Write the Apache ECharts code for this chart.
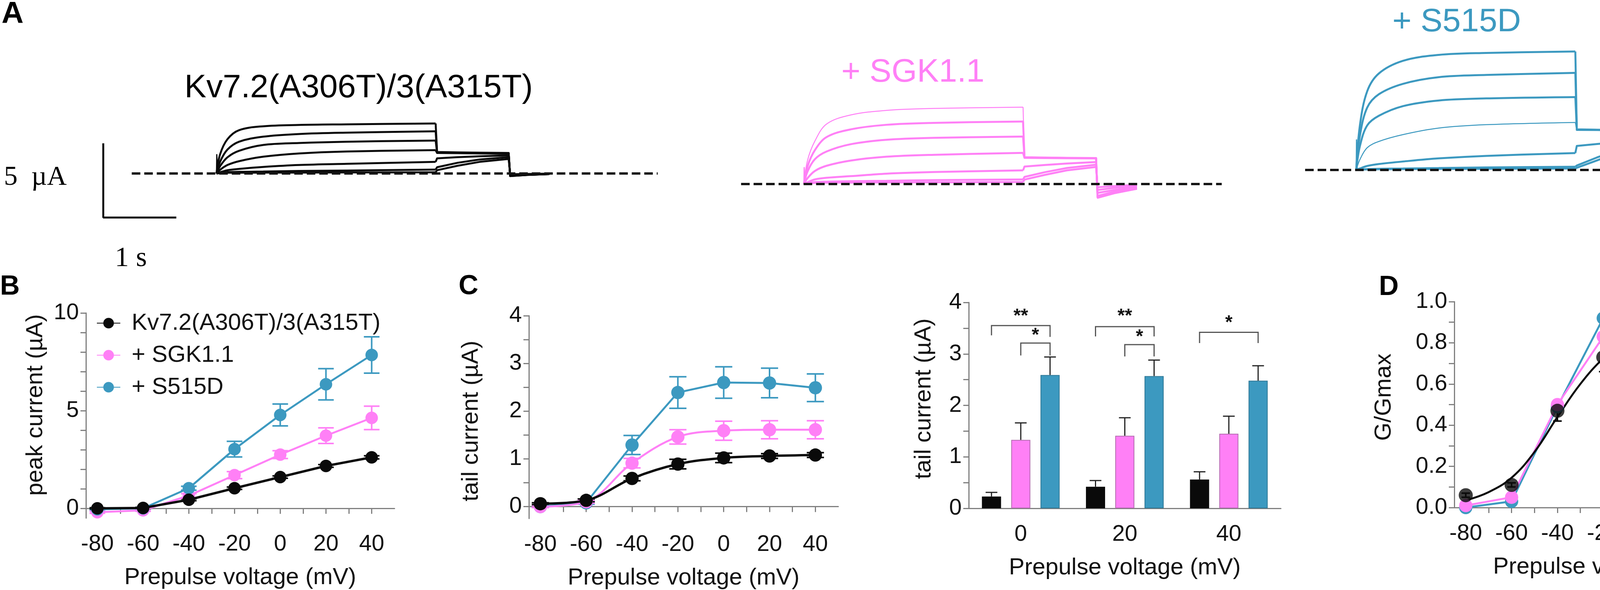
<!DOCTYPE html>
<html>
<head>
<meta charset="utf-8">
<title>Kv7.2(A306T)/3(A315T) + SGK1.1</title>
<script src="https://cdn.jsdelivr.net/npm/echarts@6/dist/echarts.min.js"></script>
<style>
   html, body { margin: 0; padding: 0; background: #fff; }
   #chart { width: 4550px; height: 1510px; }
</style>
</head>
<body>
<div id="chart"></div>
<script>
// ---- values ----
const NAME_KV = 'Kv7.2(A306T)/3(A315T)';
const NAME_SGK = '+ SGK1.1';
const NAME_S515D = '+ S515D';

const voltages = [-80, -60, -40, -20, 0, 20, 40];
const voltTicks = [-80, -70, -60, -50, -40, -30, -20, -10, 0, 10, 20, 30, 40];
const voltLabels = [-80, -60, -40, -20, 0, 20, 40];

// B: peak current (uA)
const peakKv = [0.0, 0.02, 0.44, 1.03, 1.6, 2.17, 2.61];
const peakKvErr = [0.03, 0.03, 0.05, 0.06, 0.06, 0.07, 0.08];
const peakSgk = [-0.2, -0.1, 0.65, 1.7, 2.75, 3.72, 4.63];
const peakSgkErr = [0.05, 0.05, 0.1, 0.18, 0.2, 0.4, 0.6];
const peakS515d = [-0.05, 0.0, 1.03, 3.03, 4.78, 6.35, 7.85];
const peakS515dErr = [0.05, 0.05, 0.1, 0.4, 0.56, 0.8, 0.93];
const peakYTicks = [0, 1, 2, 3, 4, 5, 6, 7, 8, 9, 10];
const peakYLabels = [0, 5, 10];

// C (left): tail current (uA)
const tailKv = [0.06, 0.13, 0.59, 0.89, 1.02, 1.06, 1.08];
const tailKvErr = [0.02, 0.03, 0.05, 0.1, 0.1, 0.05, 0.05];
const tailSgk = [0.0, 0.1, 0.91, 1.46, 1.59, 1.61, 1.61];
const tailSgkErr = [0.02, 0.03, 0.1, 0.15, 0.2, 0.19, 0.19];
const tailS515d = [0.0, 0.08, 1.29, 2.39, 2.6, 2.59, 2.49];
const tailS515dErr = [0.02, 0.03, 0.2, 0.33, 0.33, 0.31, 0.29];
const tailYTicks = [0, 0.5, 1, 1.5, 2, 2.5, 3, 3.5, 4];
const tailYLabels = [0, 1, 2, 3, 4];

// C (right): tail current bars at 0, 20, 40 mV
const barCats = ['0', '20', '40'];
const barKv = [0.23, 0.42, 0.56];
const barKvErr = [0.08, 0.12, 0.15];
const barSgk = [1.33, 1.41, 1.45];
const barSgkErr = [0.33, 0.35, 0.34];
const barS515d = [2.59, 2.57, 2.48];
const barS515dErr = [0.35, 0.31, 0.29];

// significance brackets: group, from bar, to bar, bracket top, left leg end, right leg end, star height
const sigGroup = [0, 0, 1, 1, 2];
const sigFrom = [0, 1, 0, 1, 0];
const sigTo = [2, 2, 2, 2, 2];
const sigTop = [3.55, 3.21, 3.53, 3.18, 3.42];
const sigLegL = [3.36, 2.97, 3.34, 2.95, 3.21];
const sigLegR = [3.33, 2.97, 3.34, 2.95, 3.21];
const sigStarY = [3.73, 3.36, 3.73, 3.33, 3.6];
const sigText = ['**', '*', '**', '*', '*'];

// D: G/Gmax
const gKv = [0.06, 0.11, 0.47, 0.73, 0.85, 0.94, 0.99];
const gKvErr = [0.01, 0.01, 0.05, 0.07, 0.05, 0.01, 0.01];
const gSgk = [0.01, 0.05, 0.5, 0.83, 0.94, 0.97, 0.97];
const gS515d = [0.0, 0.03, 0.49, 0.92, 1.0, 1.0, 0.96];
// black fitted curve, read every 10 mV
const fitVolt = [-80, -70, -60, -50, -40, -30, -20, -10, 0, 10, 20, 30, 40];
const fitKv = [0.035, 0.075, 0.145, 0.27, 0.44, 0.6, 0.725, 0.815, 0.875, 0.915, 0.94, 0.952, 0.96];
const gYTicks = [0, 0.1, 0.2, 0.3, 0.4, 0.5, 0.6, 0.7, 0.8, 0.9, 1.0];
const gYLabels = [0, 0.2, 0.4, 0.6, 0.8, 1.0];

// A: current traces (s, uA). activation / tail / after tail, one row per sweep
const actT = [0, 0.05, 0.15, 0.31, 0.64, 1.13, 1.78, 3.0];
const tailT = [3.02, 3.3, 3.6, 4.0];
const postT = [4.02, 4.25, 4.56];

const kvAct = [
   [0, 1.3, 2.31, 2.92, 3.18, 3.27, 3.31, 3.37],
   [0, 0.8, 1.61, 2.14, 2.48, 2.66, 2.75, 2.84],
   [0, 0.5, 1.09, 1.53, 1.92, 2.05, 2.14, 2.22],
   [0, 0.25, 0.57, 0.83, 1.13, 1.35, 1.48, 1.57],
   [0, 0.08, 0.22, 0.31, 0.44, 0.57, 0.65, 0.78],
   [0, 0.03, 0.09, 0.11, 0.13, 0.17, 0.2, 0.26],
   [0, 0.02, 0.05, 0.05, 0.06, 0.06, 0.07, 0.08]
];
const kvTail = [
   [1.45, 1.42, 1.4, 1.38],
   [1.42, 1.4, 1.38, 1.36],
   [1.4, 1.38, 1.36, 1.34],
   [1.38, 1.37, 1.35, 1.33],
   [1.02, 1.1, 1.16, 1.22],
   [0.42, 0.72, 0.94, 1.1],
   [0.22, 0.52, 0.78, 0.98]
];
const kvPost = [
   [-0.18, -0.1, -0.04],
   [-0.17, -0.1, -0.04],
   [-0.16, -0.09, -0.04],
   [-0.15, -0.09, -0.03],
   [-0.12, -0.07, -0.03],
   [-0.08, -0.05, -0.02],
   [-0.05, -0.03, -0.01]
];

const sgkAct = [
   [0, 1.6, 2.89, 4.04, 4.65, 4.96, 5.09, 5.18],
   [0, 1.2, 2.28, 3.16, 3.68, 3.99, 4.12, 4.21],
   [0, 0.85, 1.67, 2.19, 2.68, 2.98, 3.11, 3.2],
   [0, 0.4, 0.88, 1.23, 1.58, 1.84, 1.97, 2.1],
   [0, 0.12, 0.31, 0.42, 0.53, 0.7, 0.81, 0.92],
   [0, 0.05, 0.13, 0.16, 0.19, 0.22, 0.26, 0.31],
   [0, 0.03, 0.08, 0.09, 0.1, 0.11, 0.12, 0.14]
];
const sgkTail = [
   [1.82, 1.8, 1.78, 1.76],
   [1.8, 1.78, 1.76, 1.75],
   [1.78, 1.77, 1.75, 1.74],
   [1.76, 1.75, 1.74, 1.73],
   [1.18, 1.28, 1.38, 1.48],
   [0.48, 0.8, 1.08, 1.3],
   [0.3, 0.62, 0.92, 1.15]
];
const sgkPost = [
   [-0.96, -0.65, -0.35],
   [-0.9, -0.6, -0.32],
   [-0.85, -0.56, -0.3],
   [-0.8, -0.52, -0.28],
   [-0.6, -0.4, -0.2],
   [-0.4, -0.26, -0.12],
   [-0.22, -0.14, -0.06]
];

const s515dAct = [
   [0, 3.0, 5.3, 6.5, 7.35, 7.75, 7.88, 7.98],
   [0, 2.3, 4.2, 5.1, 5.8, 6.25, 6.4, 6.54],
   [0, 1.6, 3.0, 3.65, 4.3, 4.68, 4.82, 4.91],
   [0, 0.7, 1.5, 1.92, 2.38, 2.82, 3.05, 3.2],
   [0, 0.1, 0.27, 0.4, 0.57, 0.78, 0.95, 1.14],
   [0, 0.03, 0.06, 0.08, 0.1, 0.13, 0.17, 0.22],
   [0, 0.02, 0.04, 0.05, 0.06, 0.07, 0.08, 0.1]
];
const s515dTail = [
   [2.74, 2.71, 2.69, 2.67],
   [2.72, 2.7, 2.68, 2.66],
   [2.7, 2.69, 2.67, 2.65],
   [2.68, 2.67, 2.66, 2.64],
   [1.62, 1.75, 1.88, 2.02],
   [0.3, 0.85, 1.35, 1.85],
   [0.15, 0.65, 1.2, 1.75]
];
const s515dPost = [
   [-0.98, -0.6, -0.22],
   [-0.92, -0.56, -0.2],
   [-0.86, -0.52, -0.19],
   [-0.8, -0.48, -0.18],
   [-0.6, -0.36, -0.14],
   [-0.35, -0.22, -0.08],
   [-0.2, -0.12, -0.05]
];

// capacitive spike at pulse onset, per panel (uA)
const spikeHeights = [1.3, 1.14, 2.06];
// dashed zero-current line, start/end time per panel (s)
const zeroLineKv = [-1.16, 6.04];
const zeroLineSgk = [-0.86, 5.72];
const zeroLineS515d = [-0.7, 5.7];
// scale bar: 1 s, 5 uA
const scaleBarTime = 1;
const scaleBarCurrent = 5;

// ---- styles ----
const FONT = 'Liberation Sans, Arial, Helvetica, sans-serif';
const SERIF = 'Liberation Serif, Times New Roman, serif';
const BLACK = '#0a0a0a';
const PINK = '#ff80f6';
const BLUE = '#3c99c0';
const AXIS_C = '#808080';
const BAR_W = 49;
const BAR_GAP = 0.53;
const BAR_STEP = BAR_W * (1 + BAR_GAP);

const kvWidths = [5, 5, 5, 5, 5, 5, 5];
const sgkWidths = [2.5, 5, 5, 5, 5, 5, 5];
const s515dWidths = [5, 5, 5, 2.5, 5, 5, 5];

const chart = echarts.init(document.getElementById('chart'));

function pairs(xs, ys) {
   return xs.map((x, i) => [x, ys[i]]);
}

function traceSeries(idx, act, tail, post, widths, color, zeroLine) {
   const out = [];
   act.forEach((vals, k) => {
      out.push({
         type: 'line', xAxisIndex: idx, yAxisIndex: idx, silent: true,
         smooth: 0.35, symbol: 'none',
         lineStyle: { color: color, width: widths[k] },
         data: pairs(actT, vals)
      });
      const rest = [[actT[actT.length - 1], vals[vals.length - 1]]]
         .concat(pairs(tailT, tail[k]), pairs(postT, post[k]));
      out.push({
         type: 'line', xAxisIndex: idx, yAxisIndex: idx, silent: true,
         symbol: 'none', lineStyle: { color: color, width: widths[k], join: 'round' },
         data: rest
      });
   });
   out.push({
      type: 'line', xAxisIndex: idx, yAxisIndex: idx, silent: true, symbol: 'none',
      lineStyle: { color: color, width: 3 },
      data: [[0, 0], [0.004, spikeHeights[idx]], [0.014, 0.05]]
   });
   out.push({
      type: 'line', xAxisIndex: idx, yAxisIndex: idx, silent: true, symbol: 'none', z: 5,
      lineStyle: { color: '#151515', width: 6, type: [22, 10] },
      data: [[zeroLine[0], 0], [zeroLine[1], 0]]
   });
   return out;
}

function errorSeries(idx, xs, vals, errs, color, cap, width) {
   return {
      type: 'custom', xAxisIndex: idx, yAxisIndex: idx, silent: true, z: 1,
      data: xs.map((x, i) => [x, vals[i] - errs[i], vals[i] + errs[i]]),
      renderItem: function (params, api) {
         const lo = api.coord([api.value(0), api.value(1)]);
         const hi = api.coord([api.value(0), api.value(2)]);
         const style = { stroke: color, lineWidth: width };
         return {
            type: 'group', children: [
               { type: 'line', shape: { x1: lo[0], y1: lo[1], x2: hi[0], y2: hi[1] }, style: style },
               { type: 'line', shape: { x1: lo[0] - cap, y1: lo[1], x2: lo[0] + cap, y2: lo[1] }, style: style },
               { type: 'line', shape: { x1: hi[0] - cap, y1: hi[1], x2: hi[0] + cap, y2: hi[1] }, style: style }
            ]
         };
      }
   };
}

function pointSeries(idx, name, xs, vals, color, size, width, smooth) {
   return {
      type: 'line', name: name, xAxisIndex: idx, yAxisIndex: idx, silent: true,
      symbol: 'circle', symbolSize: size, smooth: smooth ? 0.35 : false,
      lineStyle: { color: color, width: width },
      itemStyle: { color: color },
      data: pairs(xs, vals)
   };
}

function barErrorSeries(barIdx, vals, errs) {
   return {
      type: 'custom', xAxisIndex: 5, yAxisIndex: 5, silent: true, z: 1,
      data: vals.map((v, i) => [i, v, v + errs[i]]),
      renderItem: function (params, api) {
         const base = api.coord([api.value(0), api.value(1)]);
         const top = api.coord([api.value(0), api.value(2)]);
         const x = base[0] + (barIdx - 1) * BAR_STEP;
         const style = { stroke: '#222', lineWidth: 3 };
         return {
            type: 'group', children: [
               { type: 'line', shape: { x1: x, y1: base[1], x2: x, y2: top[1] }, style: style },
               { type: 'line', shape: { x1: x - 15, y1: top[1], x2: x + 15, y2: top[1] }, style: style }
            ]
         };
      }
   };
}

function voltAxis(idx) {
   return {
      type: 'value', gridIndex: idx, min: -85, max: 50,
      axisLine: { onZero: true, lineStyle: { color: AXIS_C, width: 3 } },
      axisTick: { customValues: voltTicks, length: 14, lineStyle: { color: AXIS_C, width: 3 } },
      axisLabel: { customValues: voltLabels, margin: 38, fontSize: 58, color: '#111', fontFamily: FONT },
      splitLine: { show: false },
      name: 'Prepulse voltage (mV)', nameLocation: 'middle', nameGap: 122,
      nameTextStyle: { fontSize: 60, color: '#111', fontFamily: FONT }
   };
}

// pad shifts the rotated title along the axis (positive = up)
function valueYAxis(idx, min, max, ticks, labels, name, gap, pad, fmt) {
   return {
      type: 'value', gridIndex: idx, min: min, max: max,
      axisLine: { show: true, onZero: false, lineStyle: { color: AXIS_C, width: 3 } },
      axisTick: { show: true, customValues: ticks, length: 14, lineStyle: { color: AXIS_C, width: 3 } },
      axisLabel: { customValues: labels, margin: 18, fontSize: 58, color: '#111', fontFamily: FONT, formatter: fmt },
      splitLine: { show: false },
      name: name, nameLocation: 'middle', nameGap: gap,
      nameTextStyle: {
         fontSize: 60, color: '#111', fontFamily: FONT,
         padding: pad > 0 ? [0, 0, 0, 2 * pad] : [0, -2 * pad, 0, 0]
      }
   };
}

function hiddenAxis(idx, min, max) {
   return { type: 'value', gridIndex: idx, min: min, max: max, show: false, splitLine: { show: false } };
}

const grids = [
   { left: 255, top: 292, width: 1496, height: 285 },   // A Kv traces
   { left: 1871, top: 243, width: 1309, height: 304 },  // A SGK1.1 traces
   { left: 3285, top: 93, width: 1262, height: 418 },   // A S515D traces
   { left: 220, top: 801, width: 790, height: 525 },    // B
   { left: 1354, top: 808, width: 792, height: 522 },   // C line
   { left: 2480, top: 774, width: 799, height: 527 },   // C bars
   { left: 3723, top: 772, width: 792, height: 527 }    // D
];

const xAxes = [
   hiddenAxis(0, -1.6, 6.4),
   hiddenAxis(1, -1, 6),
   hiddenAxis(2, -1, 5.75),
   voltAxis(3),
   voltAxis(4),
   {
      type: 'category', gridIndex: 5, data: barCats,
      axisLine: { onZero: true, lineStyle: { color: AXIS_C, width: 3 } },
      axisTick: { alignWithLabel: true, length: 14, lineStyle: { color: AXIS_C, width: 3 } },
      axisLabel: { margin: 38, fontSize: 58, color: '#111', fontFamily: FONT },
      name: 'Prepulse voltage (mV)', nameLocation: 'middle', nameGap: 122,
      nameTextStyle: { fontSize: 60, color: '#111', fontFamily: FONT }
   },
   voltAxis(6)
];

const yAxes = [
   hiddenAxis(0, -3.5, 4),
   hiddenAxis(1, -2, 6),
   hiddenAxis(2, -2, 9),
   valueYAxis(3, -0.5, 10, peakYTicks, peakYLabels, 'peak current (µA)', 99, 27),
   valueYAxis(4, -0.25, 4, tailYTicks, tailYLabels, 'tail current (µA)', 118, -10),
   valueYAxis(5, 0, 4, tailYTicks, tailYLabels, 'tail current (µA)', 85, 17),
   valueYAxis(6, 0, 1, gYTicks, gYLabels, 'G/Gmax', 150, 19, v => v.toFixed(1))
];

let series = [];
series = series.concat(
   traceSeries(0, kvAct, kvTail, kvPost, kvWidths, BLACK, zeroLineKv),
   traceSeries(1, sgkAct, sgkTail, sgkPost, sgkWidths, PINK, zeroLineSgk),
   traceSeries(2, s515dAct, s515dTail, s515dPost, s515dWidths, BLUE, zeroLineS515d)
);

// scale bar drawn in the Kv trace axes
const sbX = -1.55, sbY = -2.97;
series.push({
   type: 'line', xAxisIndex: 0, yAxisIndex: 0, silent: true, symbol: 'none',
   lineStyle: { color: BLACK, width: 5 },
   data: [[sbX, sbY + scaleBarCurrent], [sbX, sbY], [sbX + scaleBarTime, sbY]]
});

// B
series.push(
   errorSeries(3, voltages, peakS515d, peakS515dErr, BLUE, 20, 4),
   errorSeries(3, voltages, peakSgk, peakSgkErr, PINK, 20, 4),
   errorSeries(3, voltages, peakKv, peakKvErr, BLACK, 20, 4),
   Object.assign(pointSeries(3, NAME_KV, voltages, peakKv, BLACK, 32, 6, false), { z: 4 }),
   Object.assign(pointSeries(3, NAME_SGK, voltages, peakSgk, PINK, 32, 5, false), { z: 3 }),
   pointSeries(3, NAME_S515D, voltages, peakS515d, BLUE, 32, 5, false)
);

// C line
series.push(
   errorSeries(4, voltages, tailS515d, tailS515dErr, BLUE, 22, 4),
   errorSeries(4, voltages, tailSgk, tailSgkErr, PINK, 22, 4),
   errorSeries(4, voltages, tailKv, tailKvErr, BLACK, 22, 4),
   pointSeries(4, null, voltages, tailS515d, BLUE, 34, 5, false),
   pointSeries(4, null, voltages, tailSgk, PINK, 34, 5, true),
   Object.assign(pointSeries(4, null, voltages, tailKv, BLACK, 34, 6, true), { z: 4 })
);

// C bars
const barBase = { type: 'bar', xAxisIndex: 5, yAxisIndex: 5, silent: true, barWidth: BAR_W, barGap: (BAR_GAP * 100) + '%' };
series.push(
   Object.assign({}, barBase, { name: NAME_KV, data: barKv, itemStyle: { color: BLACK } }),
   Object.assign({}, barBase, { name: NAME_SGK, data: barSgk, itemStyle: { color: PINK, borderColor: '#b46cb0', borderWidth: 2 } }),
   Object.assign({}, barBase, { name: NAME_S515D, data: barS515d, itemStyle: { color: BLUE, borderColor: '#2f7896', borderWidth: 2 } }),
   barErrorSeries(0, barKv, barKvErr),
   barErrorSeries(1, barSgk, barSgkErr),
   barErrorSeries(2, barS515d, barS515dErr)
);
series.push({
   type: 'custom', xAxisIndex: 5, yAxisIndex: 5, silent: true, z: 3,
   data: sigGroup.map((g, i) => [g, sigFrom[i], sigTo[i], sigTop[i], sigLegL[i], sigLegR[i], sigStarY[i]]),
   renderItem: function (params, api) {
      const g = api.value(0);
      const cx = api.coord([g, 0])[0];
      const xL = cx + (api.value(1) - 1) * BAR_STEP;
      const xR = cx + (api.value(2) - 1) * BAR_STEP;
      const yTop = api.coord([g, api.value(3)])[1];
      const yL = api.coord([g, api.value(4)])[1];
      const yR = api.coord([g, api.value(5)])[1];
      const yS = api.coord([g, api.value(6)])[1];
      return {
         type: 'group', children: [
            { type: 'polyline', shape: { points: [[xL, yL], [xL, yTop], [xR, yTop], [xR, yR]] },
              style: { stroke: '#555', lineWidth: 3, fill: null } },
            { type: 'text', x: (xL + xR) / 2, y: yS,
              style: { text: sigText[params.dataIndex], font: 'bold 48px ' + FONT, fill: '#111',
                       textAlign: 'center', textVerticalAlign: 'middle' } }
         ]
      };
   }
});

// D
series.push(
   errorSeries(6, voltages, gKv, gKvErr, BLACK, 11, 4),
   pointSeries(6, null, voltages, gS515d, BLUE, 34, 5, false),
   pointSeries(6, null, voltages, gSgk, PINK, 34, 5, false),
   {
      type: 'line', xAxisIndex: 6, yAxisIndex: 6, silent: true, symbol: 'none', smooth: 0.4, z: 3,
      lineStyle: { color: BLACK, width: 5 }, data: pairs(fitVolt, fitKv)
   },
   {
      type: 'scatter', xAxisIndex: 6, yAxisIndex: 6, silent: true, symbolSize: 36, z: 4,
      itemStyle: { color: BLACK }, data: pairs(voltages, gKv)
   }
);

const texts = [
   { x: 4, y: 37, text: 'A', font: 'bold 78px ' + FONT, align: 'left', color: '#000' },
   { x: 0, y: 735, text: 'B', font: 'bold 70px ' + FONT, align: 'left', color: '#000' },
   { x: 1174, y: 734, text: 'C', font: 'bold 70px ' + FONT, align: 'left', color: '#000' },
   { x: 3530, y: 736, text: 'D', font: 'bold 70px ' + FONT, align: 'left', color: '#000' },
   { x: 918, y: 226, text: NAME_KV, font: '84px ' + FONT, align: 'center', color: '#000' },
   { x: 2337, y: 186, text: NAME_SGK, font: '84px ' + FONT, align: 'center', color: PINK },
   { x: 3729, y: 57, text: NAME_S515D, font: '84px ' + FONT, align: 'center', color: BLUE },
   { x: 10, y: 455, text: '5  µA', font: '70px ' + SERIF, align: 'left', color: '#000' },
   { x: 294, y: 662, text: '1 s', font: '72px ' + SERIF, align: 'left', color: '#000' }
];

chart.setOption({
   backgroundColor: '#fff',
   animation: false,
   grid: grids,
   xAxis: xAxes,
   yAxis: yAxes,
   legend: {
      data: [NAME_KV, NAME_SGK, NAME_S515D],
      orient: 'vertical', left: 242, top: 790,
      itemWidth: 60, itemHeight: 34, itemGap: 18, selectedMode: false,
      textStyle: { fontSize: 60, color: '#111', fontFamily: FONT, lineHeight: 64, padding: [0, 0, 0, 24] }
   },
   graphic: texts.map(t => ({
      type: 'text', x: t.x, y: t.y, silent: true,
      style: { text: t.text, font: t.font, fill: t.color, textAlign: t.align, textVerticalAlign: 'middle' }
   })),
   series: series
});
</script>
</body>
</html>
